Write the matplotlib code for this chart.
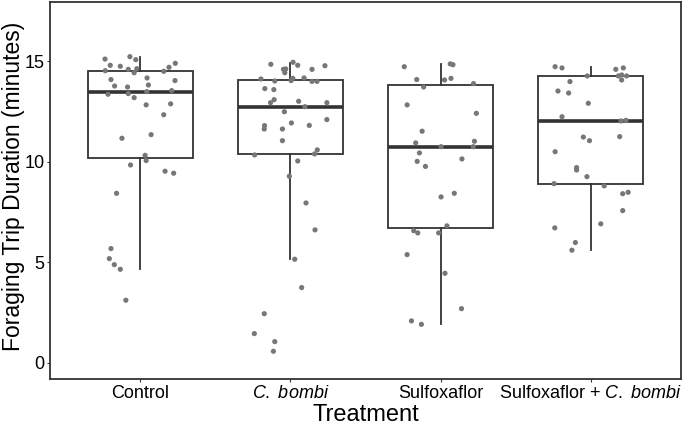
import matplotlib
matplotlib.use('Agg')
import matplotlib.pyplot as plt

plt.rcParams['font.family'] = ['Liberation Sans', 'DejaVu Sans']
plt.rcParams['mathtext.fontset'] = 'custom'
plt.rcParams['mathtext.rm'] = 'Liberation Sans'
plt.rcParams['mathtext.it'] = 'Liberation Sans:italic'

treatments = ['Control', r'$\mathit{C.}$ $\mathit{bombi}$', 'Sulfoxaflor',
              r'Sulfoxaflor + $\mathit{C.}$ $\mathit{bombi}$']

# box stats: whisker low, q1, median, q3, whisker high
whisker_lo = [4.68, 5.17, 1.94, 5.62]
q1 = [10.21, 10.38, 6.70, 8.92]
medians = [13.5, 12.75, 10.76, 12.05]
q3 = [14.55, 14.08, 13.81, 14.26]
whisker_hi = [15.2, 14.94, 14.86, 14.71]

# jittered points: horizontal offset from group centre, duration (minutes)
control_dx = [-0.234, -0.068, -0.029, -0.199, -0.132, -0.232, -0.079, -0.022, -0.040, 0.192,
              0.234, 0.157, -0.194, 0.046, 0.232, -0.170, -0.084, 0.055, -0.214, -0.079,
              0.044, 0.210, -0.040, 0.040, 0.203, 0.157, -0.121, 0.073, 0.033, 0.040,
              -0.064, 0.166, 0.223, -0.157, -0.194, -0.205, -0.172, -0.132, -0.095]
control_y = [15.12, 15.24, 15.09, 14.81, 14.76, 14.54, 14.61, 14.64, 14.44, 14.71,
             14.91, 14.51, 14.10, 14.18, 14.05, 13.78, 13.73, 13.83, 13.37, 13.40,
             13.50, 13.55, 13.20, 12.84, 12.89, 12.35, 11.18, 11.36, 10.33, 10.07,
             9.85, 9.54, 9.44, 8.44, 5.69, 5.19, 4.89, 4.66, 3.12]

bombi_dx = [-0.130, 0.018, 0.049, -0.046, -0.031, -0.037, 0.144, 0.230, -0.196, -0.104,
            0.005, 0.016, 0.091, 0.144, 0.177, -0.170, -0.110, -0.108, -0.132, 0.055,
            0.243, 0.097, -0.040, 0.243, 0.007, 0.126, -0.172, -0.174, -0.053, -0.053,
            -0.238, 0.161, 0.179, 0.049, -0.007, 0.104, 0.164, 0.029, 0.075, -0.174,
            -0.240, -0.104, -0.113]
bombi_y = [14.86, 14.96, 14.81, 14.61, 14.63, 14.44, 14.61, 14.79, 14.13, 14.03,
           14.05, 14.16, 14.18, 14.01, 14.01, 13.65, 13.60, 13.10, 12.95, 13.02,
           12.95, 12.75, 12.50, 12.11, 11.94, 11.82, 11.81, 11.64, 11.64, 11.06,
           10.35, 10.40, 10.60, 10.05, 9.29, 7.96, 6.62, 5.16, 3.75, 2.45,
           1.46, 1.06, 0.58]

sulfox_dx = [-0.242, 0.064, 0.082, -0.159, 0.026, 0.069, -0.113, 0.219, -0.223, 0.238,
             -0.123, -0.166, 0.003, 0.225, 0.217, -0.141, -0.156, -0.101, 0.142, 0.003,
             0.091, 0.042, -0.179, -0.152, -0.013, -0.223, 0.029, 0.139, -0.194, -0.128]
sulfox_y = [14.74, 14.88, 14.84, 14.10, 14.08, 14.16, 13.73, 13.90, 12.84, 12.42,
            11.53, 10.95, 10.76, 11.03, 10.76, 10.45, 10.03, 9.78, 10.15, 8.26,
            8.44, 6.82, 6.58, 6.47, 6.47, 5.39, 4.46, 2.70, 2.09, 1.92]

combo_dx = [-0.238, -0.192, 0.166, 0.216, -0.024, 0.183, 0.205, 0.238, 0.205, -0.139,
            -0.219, -0.148, -0.017, -0.192, 0.201, 0.234, -0.050, -0.009, 0.192, -0.238,
            -0.095, -0.095, -0.026, -0.245, 0.089, 0.212, 0.248, 0.212, 0.066, -0.240,
            -0.103, -0.126]
combo_y = [14.74, 14.68, 14.61, 14.68, 14.28, 14.28, 14.33, 14.28, 14.08, 14.00,
           13.53, 13.43, 12.92, 12.25, 12.04, 12.07, 11.24, 11.06, 11.26, 10.51,
           9.72, 9.60, 9.27, 8.92, 8.81, 8.42, 8.49, 7.58, 6.92, 6.72,
           5.99, 5.61]

groups_dx = [control_dx, bombi_dx, sulfox_dx, combo_dx]
groups_y = [control_y, bombi_y, sulfox_y, combo_y]

fig = plt.figure(figsize=(6.85, 4.28), dpi=100)
ax = fig.add_axes([50 / 685, 1 - 379 / 428, 631 / 685, 377 / 428])

stats = []
for i in range(len(treatments)):
    stats.append({'whislo': whisker_lo[i], 'q1': q1[i], 'med': medians[i],
                  'q3': q3[i], 'whishi': whisker_hi[i], 'fliers': []})

line_col = '#333333'
ax.bxp(stats, positions=[1, 2, 3, 4], widths=0.7, showcaps=False, patch_artist=True,
       boxprops=dict(facecolor='white', edgecolor=line_col, linewidth=1.3),
       whiskerprops=dict(color=line_col, linewidth=1.3),
       medianprops=dict(color=line_col, linewidth=2.6, solid_capstyle='butt'))

for i, (dx, ys) in enumerate(zip(groups_dx, groups_y)):
    xs = [i + 1 + d for d in dx]
    ax.scatter(xs, ys, s=14, color='#777777', edgecolors='none', zorder=5)

ax.set_xlim(0.4, 4.6)
ax.set_ylim(-0.8, 17.96)
ax.set_yticks([0, 5, 10, 15])
ax.set_xticks([1, 2, 3, 4])
ax.set_xticklabels(treatments)
ax.tick_params(axis='both', labelsize=13, length=2, color='#333333', pad=2)
ax.set_xlabel('Treatment', fontsize=17, labelpad=2)
ax.set_ylabel('Foraging Trip Duration (minutes)', fontsize=16.5)
ax.yaxis.set_label_coords(-0.039, 0.51)
for sp in ax.spines.values():
    sp.set_color('#333333')
    sp.set_linewidth(1.3)

fig.savefig('out.png', dpi=100)
